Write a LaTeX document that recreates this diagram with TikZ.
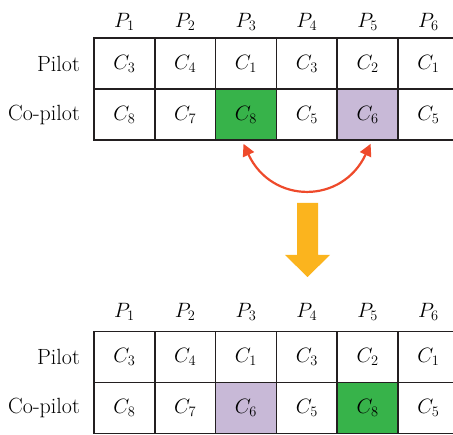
\documentclass[tikz,border=0pt]{standalone}
\usetikzlibrary{arrows.meta}
\definecolor{cellgreen}{HTML}{37B34A}
\definecolor{cellpurple}{HTML}{C8B9D7}
\definecolor{swapred}{HTML}{EE4A2B}
\definecolor{steporange}{HTML}{FBB41E}
\definecolor{gridline}{HTML}{231F20}
\begin{document}
\begin{tikzpicture}[x=1pt,y=-1pt,
  every node/.style={font=\fontsize{22}{25}\selectfont, inner sep=0pt},
  cell/.style={draw=gridline, line width=1.7pt, minimum width=60.8pt, minimum height=51pt, anchor=center},
  head/.style={anchor=center},
  rowlab/.style={anchor=east},
  swaparc/.style={draw=swapred, line width=2.2pt, {Triangle[length=12pt,width=12pt]}-{Triangle[length=12pt,width=12pt]}}
]
\useasboundingbox (0,0) rectangle (453,435);

% ---- table before the swap ----
\foreach \i in {1,...,6}
  \node[head] (a-p\i) at ({94+60.8*\i-30.4},22) {$P_{\i}$};
\node[rowlab] (a-pilot) at (80,63.5) {Pilot};
\node[rowlab] (a-copilot) at (80,114.5) {Co-pilot};
\foreach \i/\c in {1/3,2/4,3/1,4/3,5/2,6/1}
  \node[cell] (a-r\i) at ({94+60.8*\i-30.4},63.5) {$C_{\c}$};
\foreach \i/\c/\f in {1/8/white,2/7/white,3/8/cellgreen,4/5/white,5/6/cellpurple,6/5/white}
  \node[cell, fill=\f] (a-c\i) at ({94+60.8*\i-30.4},114.5) {$C_{\c}$};

% ---- swap indicator ----
\coordinate (s1) at ([xshift=-2.5pt,yshift=-3pt]a-c3.south);
\coordinate (s2) at ([xshift=3pt,yshift=-3pt]a-c5.south);
\draw[swaparc] (s1) to[out=-65,in=-115,looseness=1.35] (s2);

\fill[steporange] (297,203) -- (318,203) -- (318,255) -- (330,255) -- (307.5,277)
  -- (285,255) -- (297,255) -- cycle;

% ---- table after the swap ----
\foreach \i in {1,...,6}
  \node[head] (b-p\i) at ({94+60.8*\i-30.4},312) {$P_{\i}$};
\node[rowlab] (b-pilot) at (80,357) {Pilot};
\node[rowlab] (b-copilot) at (80,408) {Co-pilot};
\foreach \i/\c in {1/3,2/4,3/1,4/3,5/2,6/1}
  \node[cell] (b-r\i) at ({94+60.8*\i-30.4},357) {$C_{\c}$};
\foreach \i/\c/\f in {1/8/white,2/7/white,3/6/cellpurple,4/5/white,5/8/cellgreen,6/5/white}
  \node[cell, fill=\f] (b-c\i) at ({94+60.8*\i-30.4},408) {$C_{\c}$};
\end{tikzpicture}
\end{document}
